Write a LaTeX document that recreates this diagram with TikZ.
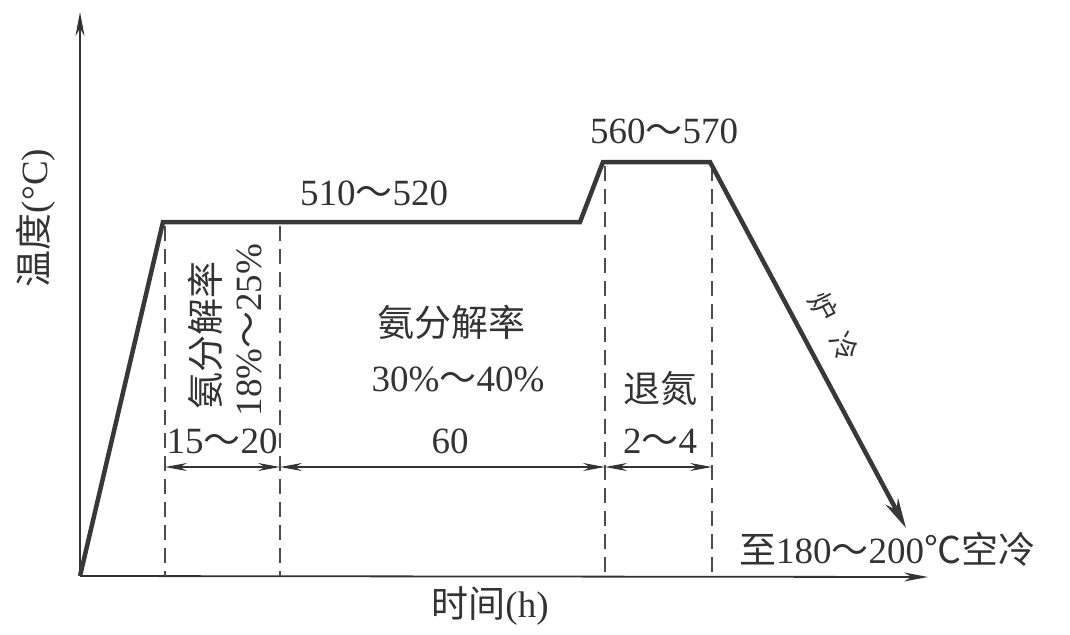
\documentclass[tikz,border=0pt]{standalone}
\usepackage{fontspec}
\setmainfont{Liberation Serif}
\newfontfamily\cjk{Noto Sans CJK SC}
\usetikzlibrary{arrows.meta}
\begin{document}
\begin{tikzpicture}[x=1pt,y=-1pt,
  axis/.style={line width=1.8pt, draw=black!80, -{Stealth[length=24pt,width=9pt]}},
  curve/.style={line width=4.5pt, draw=black!78, line join=miter},
  guide/.style={line width=1.3pt, draw=black!70, dash pattern=on 15pt off 8pt},
  dim/.style={line width=1.3pt, draw=black!80, {Stealth[length=22pt,width=8pt]}-{Stealth[length=22pt,width=8pt]}},
  lbl/.style={font=\fontsize{37}{40}\selectfont, text=black!80, inner sep=0pt},
  sml/.style={font=\fontsize{28}{30}\selectfont, text=black!80, inner sep=0pt}]
\useasboundingbox (0,0) rectangle (1070,634);
% key points
\coordinate (O) at (80,576);
\coordinate (ytip) at (80,12);
\coordinate (xtip) at (928,577);
\coordinate (A) at (163,222);
\coordinate (B) at (580,222);
\coordinate (C) at (603,162);
\coordinate (D) at (710,162);
\coordinate (E) at (906,528);
% axes
\draw[axis] (O) -- (ytip);
\draw[axis] (O) -- (xtip);
% guides
\coordinate (g1t) at (165,226); \coordinate (g1b) at (165,576);
\coordinate (g2t) at (280,226); \coordinate (g2b) at (280,576);
\coordinate (g3t) at (605,166); \coordinate (g3b) at (605,576);
\coordinate (g4t) at (712,166); \coordinate (g4b) at (712,576);
\draw[guide] (g1t) -- (g1b);
\draw[guide] (g2t) -- (g2b);
\draw[guide] (g3t) -- (g3b);
\draw[guide] (g4t) -- (g4b);
% curve
\draw[curve,-{Stealth[length=30pt,width=14pt]}] (O) -- (A) -- (B) -- (C) -- (D) -- (E);
% dimension arrows
\coordinate (d1) at (165,467); \coordinate (d2) at (280,467);
\coordinate (d3) at (605,467); \coordinate (d4) at (712,467);
\draw[dim] (d1) -- (d2);
\draw[dim] (d2) -- (d3);
\draw[dim] (d3) -- (d4);
% labels
\node[lbl] (t1) at (374,193) {510{\cjk ～}520};
\node[lbl] (t2) at (664,131) {560{\cjk ～}570};
\node[lbl,rotate=90] (t3) at (205,335) {\cjk 氨分解率};
\node[lbl,rotate=90] (t4) at (249,330) {18\%{\cjk ～}25\%};
\node[lbl] (t5) at (222,441) {15{\cjk ～}20};
\node[lbl] (t6) at (451,322) {\cjk 氨分解率};
\node[lbl] (t7) at (458,379) {30\%{\cjk ～}40\%};
\node[lbl] (t8) at (450,441) {60};
\node[lbl] (t9) at (660,388) {\cjk 退氮};
\node[lbl] (t10) at (660,441) {2{\cjk ～}4};
\node[sml,rotate=-62] (t11a) at (823,307) {\cjk 炉};
\node[sml,rotate=-62] (t11b) at (844,347) {\cjk 冷};
\node[lbl] (t12) at (887,549) {{\cjk 至}180{\cjk ～}200{\cjk ℃空冷}};
\node[lbl] (t13) at (490,606) {{\cjk 时间}(h)};
\node[lbl,rotate=90] (t14) at (36,218) {{\cjk 温度}(°C)};
\end{tikzpicture}
\end{document}
